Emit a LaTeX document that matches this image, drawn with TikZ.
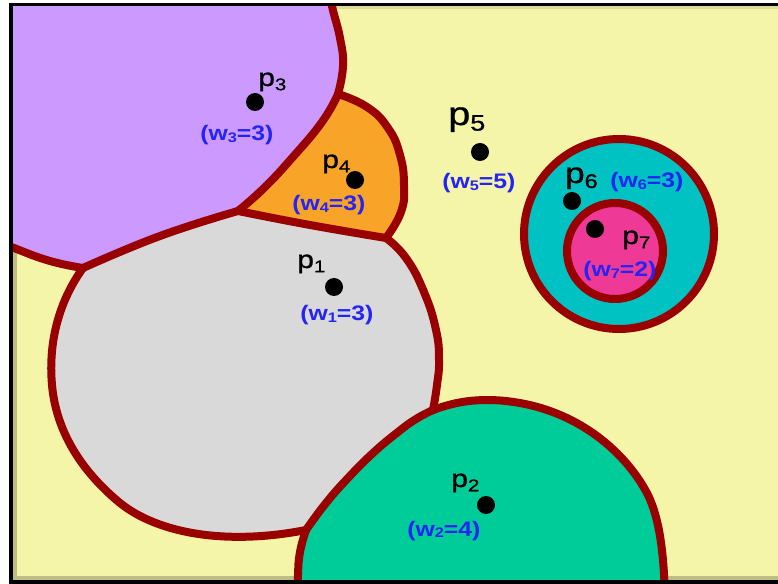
\documentclass[tikz,border=0pt]{standalone}
\usepackage{fontspec}
\usepackage{graphicx}
\setmainfont{Liberation Sans}
\newfontfamily\pfont[FakeStretch=1.2,FakeBold=1]{Liberation Sans}
\newfontfamily\wfont[FakeStretch=1.18]{Liberation Sans Bold}
\newcommand\psb[1]{\raisebox{-0.17em}{\scalebox{0.68}{#1}}}
\newcommand\wsb[1]{\raisebox{-0.06em}{\scalebox{0.66}{#1}}}
\definecolor{bgy}{HTML}{F5F5AA}
\definecolor{shad}{HTML}{BDBD84}
\definecolor{purp}{HTML}{CC99FF}
\definecolor{orng}{HTML}{F8A428}
\definecolor{gry}{HTML}{D9D9D9}
\definecolor{grn}{HTML}{00CC99}
\definecolor{cyn}{HTML}{00C2C2}
\definecolor{pnk}{HTML}{EE3A96}
\definecolor{bord}{HTML}{990000}
\definecolor{wblue}{HTML}{2424F4}
\tikzset{
  bd/.style={draw=bord, line width=6pt, line join=round, line cap=round},
  dot/.style={circle, fill=black, inner sep=0pt, minimum size=13.5pt},
  plab/.style={anchor=base west, inner sep=0pt, font=\pfont\fontsize{18.75}{20}\selectfont},
  pbig/.style={font=\pfont\fontsize{24.75}{26}\selectfont},
  pmid/.style={font=\pfont\fontsize{21.75}{23}\selectfont},
  wlab/.style={anchor=base west, inner sep=0pt, text=wblue, font=\wfont\fontsize{15.75}{17}\selectfont},
}
\def\bAB{-- plot[smooth,tension=0.8] coordinates {(329,-15) (332,6) (340,38) (343,66) (338,94)}}
\def\bBC{-- plot[smooth,tension=0.8] coordinates {(338,94) (322,122) (292,158) (264,188) (238,211)}}
\def\bCE{-- plot[smooth,tension=0.8] coordinates {(238,211) (160,236) (83,268)}}
\def\bEF{-- plot[smooth,tension=0.8] coordinates {(83,268) (50,261) (14,248) (-20,234)}}
\def\bBD{-- plot[smooth,tension=0.8] coordinates {(338,94) (367,107) (388,128) (400,155) (404,185) (401,212) (386,238)}}
\def\bDC{-- plot[smooth,tension=0.8] coordinates {(386,238) (310,225) (238,211)}}
\def\bEH{-- (83,268) .. controls (60,300) and (48,340) .. (52,385) .. controls (56,430) and (80,470) .. (120,503) .. controls (160,535) and (230,545) .. (306,530)}
\def\bHG{-- plot[smooth,tension=0.8] coordinates {(306,530) (326,503) (348,478) (373,453) (398,432) (416,419) (433,410)}}
\def\bGD{-- plot[smooth,tension=0.8] coordinates {(433,410) (437,385) (439,360) (436,330) (424,292) (406,258) (386,238)}}
\def\bIH{-- plot[smooth,tension=0.8] coordinates {(298,600) (298,575) (300,552) (306,530)}}
\def\bGJ{-- (433,410) .. controls (455,402) and (470,400) .. (490,400) .. controls (570,402) and (625,450) .. (648,495) .. controls (660,520) and (664,555) .. (665,600)}
\begin{document}
\begin{tikzpicture}[x=0.75pt, y=-0.75pt]
\useasboundingbox (0,0) rectangle (778,584);
\clip (0,0) rectangle (778,584);
% background and inner shadow
\fill[bgy] (0,0) rectangle (820,620);
\fill[shad] (11,4.7) rectangle (17,581.7);
\fill[shad] (11,576) rectangle (820,581.7);
\fill[shad!45!bgy] (11,4.7) rectangle (820,9);
% region fills
\fill[orng] (338,94) \bBD \bDC -- cycle;
\fill[purp] (-20,-20) \bAB \bBC \bCE \bEF -- cycle;
\fill[gry] (83,268) \bEH \bHG \bGD \bDC \bCE -- cycle;
\fill[grn] (298,600) \bIH \bHG \bGJ -- cycle;
% boundaries
\draw[bd] (329,-15) \bAB;
\draw[bd] (338,94) \bBC;
\draw[bd] (238,211) \bCE;
\draw[bd] (83,268) \bEF;
\draw[bd] (338,94) \bBD;
\draw[bd] (386,238) \bDC;
\draw[bd] (83,268) \bEH;
\draw[bd] (306,530) \bHG;
\draw[bd] (433,410) \bGD;
\draw[bd] (298,600) \bIH;
\draw[bd] (433,410) \bGJ;
% circles
\filldraw[bd, fill=cyn] (619,234) circle[radius=95];
\filldraw[bd, fill=pnk] (615,251) circle[radius=48];
% white margin and frame
\fill[white, even odd rule] (-30,-30) rectangle (830,630) (11,4.7) rectangle (830,581.7);
\draw[black, line width=2.7pt] (830,4.7) -- (11,4.7) -- (11,581.7) -- (830,581.7);
% sites
\node[dot] (d1) at (334,287) {};
\node[dot] (d2) at (486,505) {};
\node[dot] (d3) at (255,102) {};
\node[dot] (d4) at (355,180) {};
\node[dot] (d5) at (480,152) {};
\node[dot] (d6) at (572,201) {};
\node[dot] (d7) at (595,229) {};
% site labels
\node[plab] (l1) at (297,268) {p\psb{1}};
\node[plab] (l2) at (451,487) {p\psb{2}};
\node[plab] (l3) at (258,86) {p\psb{3}};
\node[plab] (l4) at (322,168) {p\psb{4}};
\node[plab, pbig] (l5) at (448,125) {p\psb{5}};
\node[plab, pmid] (l6) at (565,183) {p\psb{6}};
\node[plab] (l7) at (622,244) {p\psb{7}};
% weights
\node[wlab] (w1) at (300,321) {(w\wsb{1}=3)};
\node[wlab] (w2) at (407,536) {(w\wsb{2}=4)};
\node[wlab] (w3) at (200,141) {(w\wsb{3}=3)};
\node[wlab] (w4) at (292,211) {(w\wsb{4}=3)};
\node[wlab] (w5) at (442,189) {(w\wsb{5}=5)};
\node[wlab] (w6) at (610,188) {(w\wsb{6}=3)};
\node[wlab] (w7) at (583,277) {(w\wsb{7}=2)};
\end{tikzpicture}
\end{document}
